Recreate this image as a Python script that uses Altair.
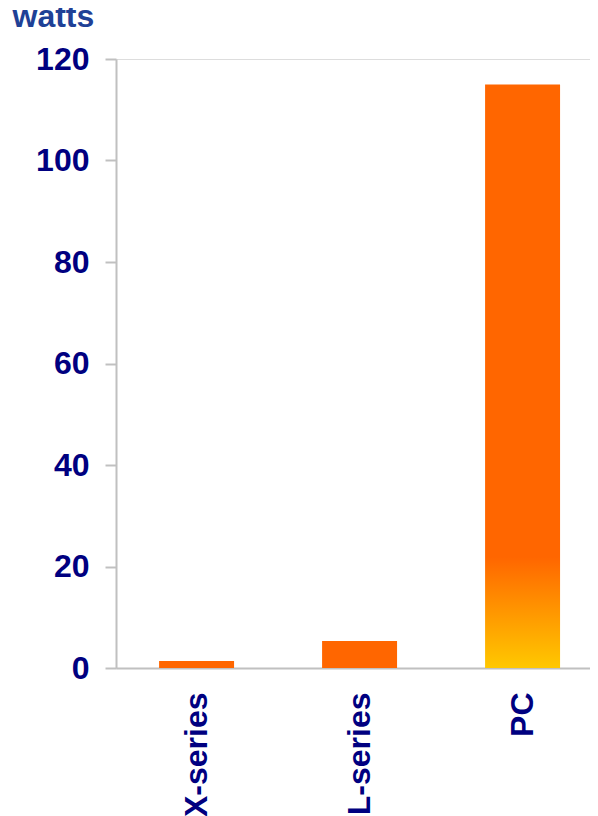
import altair as alt
import pandas as pd

categories = ["X-series", "L-series", "PC"]
watts = [1.4, 5.3, 115]
y_ticks = [0, 20, 40, 60, 80, 100, 120]

df = pd.DataFrame({"device": categories, "watts": watts})

FONT = "Liberation Sans"
NAVY = "#000080"

x_enc = alt.X(
    "device:N",
    sort=categories,
    scale=alt.Scale(domain=categories, paddingInner=0.54, paddingOuter=0.224, align=0.59),
    axis=alt.Axis(
        title=None,
        labelAngle=-90,
        labelFont=FONT,
        labelFontSize=32,
        labelFontWeight="bold",
        labelColor=NAVY,
        labelPadding=24,
        ticks=False,
        domainColor="#C0C0C0",
        domainWidth=2,
        grid=False,
    ),
)

y_enc = alt.Y(
    "watts:Q",
    scale=alt.Scale(domain=[0, 120], nice=False),
    axis=alt.Axis(
        values=y_ticks,
        title="watts",
        titleAngle=0,
        titleX=-104,
        titleY=-33,
        titleAlign="left",
        titleBaseline="alphabetic",
        titleFont=FONT,
        titleFontSize=32,
        titleFontWeight="bold",
        titleColor="#1F4196",
        labelFont=FONT,
        labelFontSize=32,
        labelFontWeight="bold",
        labelColor=NAVY,
        labelPadding=16,
        tickSize=11,
        tickColor="#C0C0C0",
        tickWidth=2,
        domainColor="#C0C0C0",
        domainWidth=2,
        grid=False,
    ),
)

base = alt.Chart(df)

solid = base.mark_bar(color="#FF6600").encode(x=x_enc, y=y_enc).transform_filter(
    alt.datum.device != "PC"
)

grad = base.mark_bar(
    color=alt.Gradient(
        gradient="linear",
        x1=0, y1=0, x2=0, y2=1,
        stops=[
            alt.GradientStop(offset=0, color="#FF6600"),
            alt.GradientStop(offset=0.81, color="#FF6600"),
            alt.GradientStop(offset=1, color="#FFC800"),
        ],
    )
).encode(x=x_enc, y=y_enc).transform_filter(alt.datum.device == "PC")

chart = (
    alt.layer(solid, grad)
    .properties(
        width=474,
        height=609,
        autosize=alt.AutoSizeParams(type="none"),
        padding={"left": 108, "top": 51, "right": 0, "bottom": 148},
    )
    .configure_view(stroke=None)
    .configure(background="white")
)

chart.save("out.html", embed_options={"renderer": "svg", "actions": False})
